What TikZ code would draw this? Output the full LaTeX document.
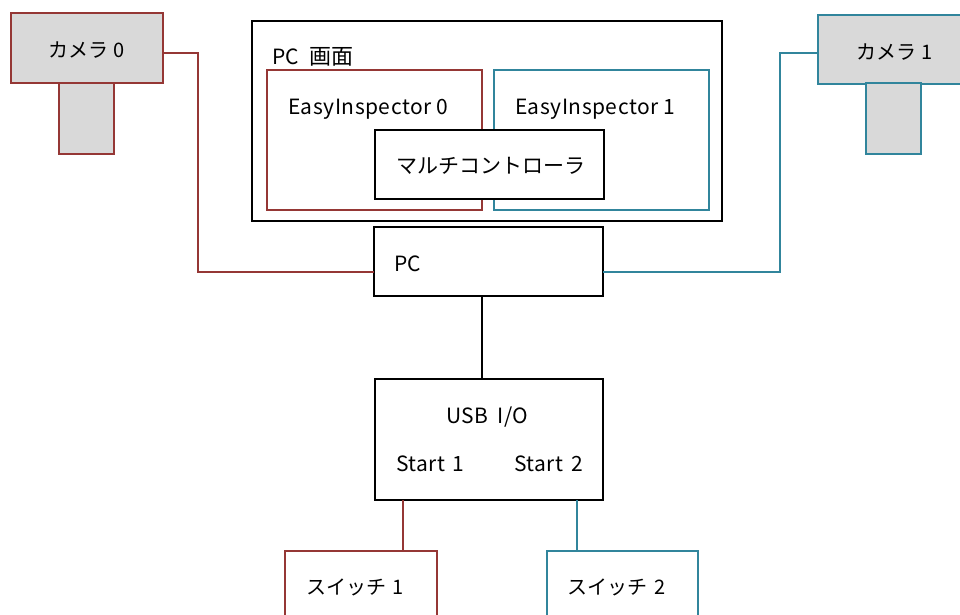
\documentclass[tikz,border=0pt]{standalone}
\usepackage{fontspec}
\setmainfont{Noto Sans CJK JP}
\newfontfamily\lat[LetterSpace=2.5]{Noto Sans CJK JP}
\usetikzlibrary{calc}
\definecolor{redline}{HTML}{953735}
\definecolor{blueline}{HTML}{31859C}
\definecolor{camfill}{HTML}{D9D9D9}
\tikzset{
  box/.style={draw=#1,line width=2pt,inner sep=0pt,outer sep=0pt,anchor=north west,line join=miter},
  box/.default=black,
  lbl/.style={inner sep=0pt,outer sep=0pt,anchor=base west,font=\fontsize{21}{24}\selectfont,text=black},
  wire/.style={draw=#1,line width=2pt},
  wire/.default=black
}
\begin{document}
\begin{tikzpicture}[x=1pt,y=-1pt]
\useasboundingbox (0,0) rectangle (960,614);
\clip (0,0) rectangle (960,614);
\fill[white] (0,0) rectangle (960,614);
\node[box=redline,fill=camfill,minimum width=152pt,minimum height=70pt] (cam0) at (11,13) {};
\node[box=redline,fill=camfill,minimum width=55pt,minimum height=71pt] (lens0) at (59,83) {};
\node[box=blueline,fill=camfill,minimum width=160pt,minimum height=69pt] (cam1) at (818,15) {};
\node[box=blueline,fill=camfill,minimum width=55pt,minimum height=71pt] (lens1) at (866,83) {};
\node[box,minimum width=470pt,minimum height=200pt] (screen) at (252,21) {};
\node[box=redline,minimum width=215pt,minimum height=140pt] (ei0) at (267,70) {};
\node[box=blueline,minimum width=215pt,minimum height=140pt] (ei1) at (494,70) {};
\node[box,fill=white,minimum width=229pt,minimum height=69pt] (multi) at (375,130) {};
\node[box,minimum width=229pt,minimum height=69pt] (pc) at (374,227) {};
\node[box,minimum width=228pt,minimum height=121pt] (usb) at (375,379) {};
\node[box=redline,minimum width=152pt,minimum height=70pt] (sw1) at (285,551) {};
\node[box=blueline,minimum width=151pt,minimum height=70pt] (sw2) at (547,551) {};
\draw[wire=redline] ($(cam0.east)+(0,5)$) -- (198,53) -- (198,271.5) -- ($(pc.west)+(0,10)$);
\draw[wire=blueline] ($(cam1.west)+(0,3.5)$) -- (780,53) -- (780,271.5) -- ($(pc.east)+(0,10)$);
\draw[wire] (pc.south -| 482,0) -- (usb.north -| 482,0);
\draw[wire=redline] (usb.south -| 403,0) -- (sw1.north -| 403,0);
\draw[wire=blueline] (usb.south -| 577,0) -- (sw2.north -| 577,0);
\node[lbl] (t1) at (48,57) {\fontsize{20}{24}\selectfont カメラ\hspace{1pt} 0};
\node[lbl] (t2) at (856,59) {\fontsize{20}{24}\selectfont カメラ\hspace{1pt} 1};
\node[lbl] (t3) at (272,64) {PC\hspace{6pt} \fontsize{22}{24}\selectfont 画面};
\node[lbl] (t4) at (288,114) {\lat EasyInspector 0};
\node[lbl] (t5) at (515,114) {\lat EasyInspector 1};
\node[lbl] (t6) at (396,173) {マルチコントローラ};
\node[lbl] (t7) at (394,271) {\lat PC};
\node[lbl] (t8) at (446,423) {\lat USB\hspace{4pt} I/O};
\node[lbl] (t9) at (396,471) {\lat Start\hspace{2pt} 1};
\node[lbl] (t10) at (514,471) {\lat Start\hspace{3pt} 2};
\node[lbl] (t11) at (306,594) {\fontsize{20}{24}\selectfont スイッチ\hspace{2pt} 1};
\node[lbl] (t12) at (567,594) {\fontsize{20}{24}\selectfont スイッチ\hspace{3pt} 2};
\end{tikzpicture}
\end{document}
